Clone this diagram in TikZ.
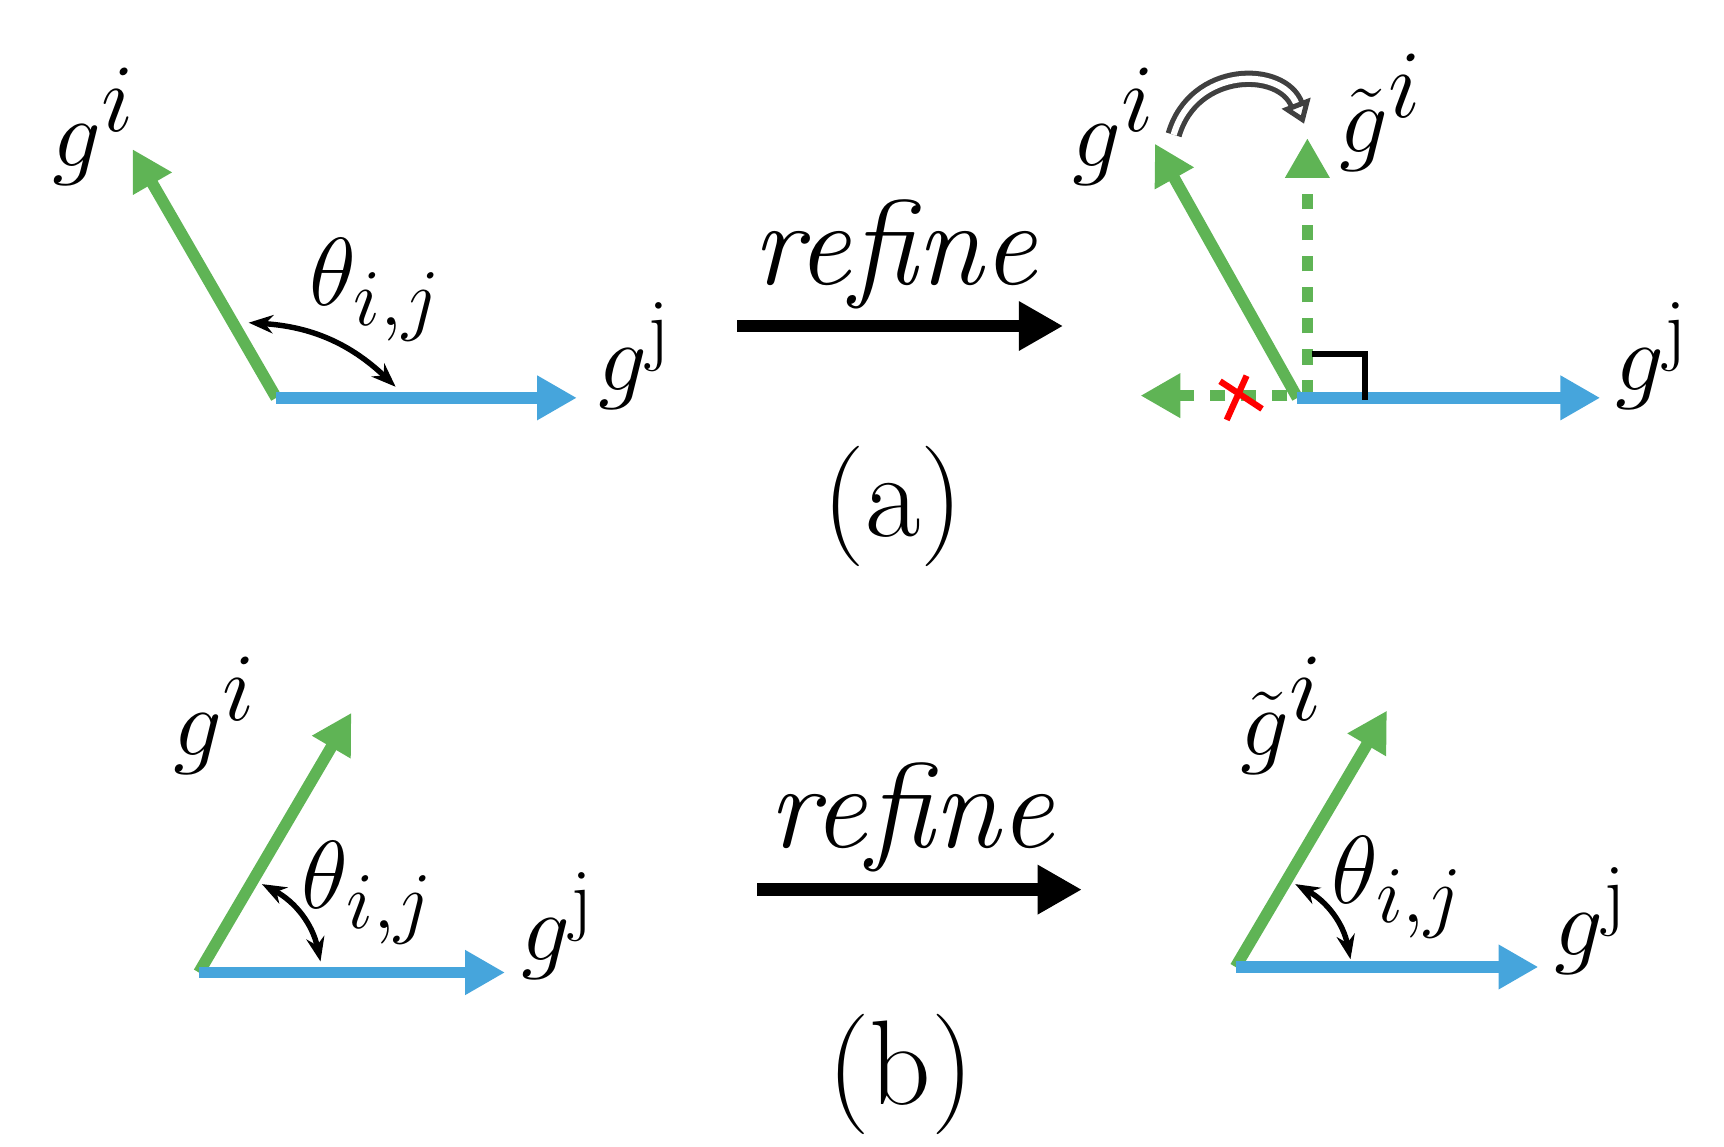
\documentclass[tikz,border=0pt]{standalone}
\usetikzlibrary{arrows.meta}
\definecolor{vgreen}{RGB}{95,180,85}
\definecolor{vblue}{RGB}{70,165,220}
\begin{document}
\begin{tikzpicture}[x=0.01cm,y=-0.01cm,
    vec/.style={line width=3pt,-{Triangle[length=0.36cm,width=0.38cm]}},
    gvec/.style={vec,vgreen},
    bvec/.style={vec,vblue},
    dvec/.style={gvec,dash pattern=on 4pt off 4pt},
    lab/.style={font=\fontsize{31}{34}\selectfont,inner sep=0pt},
    ang/.style={line width=1.4pt,{Stealth[length=0.22cm]}-{Stealth[length=0.22cm]}},
    refarrow/.style={line width=3.2pt,-{Triangle[length=0.4cm,width=0.42cm]}}]
  \useasboundingbox (0,0) rectangle (1560,1037);
  % (a) left
  \coordinate (o1) at (250,360);
  \coordinate (gi1) at (120,135);
  \coordinate (gj1) at (522,360);
  \draw[gvec] (o1) -- (gi1);
  \draw[bvec] (o1) -- (gj1);
  \node[lab] (lgi1) at (85,115) {$g^{\textstyle i}$};
  \node[lab] (lgj1) at (575,322) {$g^{\mathrm{j}}$};
  \node[lab] (th1) at (340,262) {$\theta_{i,j}$};
  \coordinate (a1s) at (225,292);
  \coordinate (a1e) at (358,350);
  \draw[ang] (a1s) to[bend left=20] (a1e);
  % refine (a)
  \coordinate (r1s) at (667,295);
  \coordinate (r1e) at (962,295);
  \draw[refarrow] (r1s) -- (r1e);
  \node[lab] (rf1) at (810,230) {\textit{refine}};
  \node[lab] (capa) at (808,458) {(a)};
  % (a) right
  \coordinate (o2) at (1174,360);
  \coordinate (gi2) at (1045,130);
  \coordinate (gt2) at (1183,125);
  \coordinate (gl2) at (1032,358);
  \coordinate (gj2) at (1448,360);
  \draw[dvec] (1183,358) -- (gt2);
  \draw[dvec] (1165,358) -- (gl2);
  \draw[gvec] (o2) -- (gi2);
  \draw[bvec] (o2) -- (gj2);
  \draw[line width=1.5pt] (1187,320) -- (1235,320) -- (1235,362);
  \draw[red,line width=1.6pt] (1104,345) -- (1142,370) (1128,340) -- (1110,380);
  \draw[double=white,draw=black!75,line width=1.3pt,double distance=1.6pt,-{Triangle[length=0.2cm,width=0.27cm,open]}]
    (1062,122) .. controls (1080,60) and (1160,60) .. (1180,112);
  \node[lab] (lgi2) at (1008,115) {$g^{\textstyle i}$};
  \node[lab] (lgt2) at (1250,102) {$\tilde g^{\textstyle i}$};
  \node[lab] (lgj2) at (1495,322) {$g^{\mathrm{j}}$};
  % (b) left
  \coordinate (o3) at (180,880);
  \coordinate (gi3) at (318,645);
  \coordinate (gj3) at (457,880);
  \draw[gvec] (o3) -- (gi3);
  \draw[bvec] (o3) -- (gj3);
  \node[lab] (lgi3) at (195,648) {$g^{\textstyle i}$};
  \node[lab] (lgj3) at (505,838) {$g^{\mathrm{j}}$};
  \node[lab] (th3) at (333,808) {$\theta_{i,j}$};
  \coordinate (a3s) at (237,800);
  \coordinate (a3e) at (290,870);
  \draw[ang] (a3s) to[bend left=25] (a3e);
  % refine (b)
  \coordinate (r2s) at (685,805);
  \coordinate (r2e) at (979,805);
  \draw[refarrow] (r2s) -- (r2e);
  \node[lab] (rf2) at (825,740) {\textit{refine}};
  \node[lab] (capb) at (815,972) {(b)};
  % (b) right
  \coordinate (o4) at (1118,875);
  \coordinate (gi4) at (1255,643);
  \coordinate (gj4) at (1392,875);
  \draw[gvec] (o4) -- (gi4);
  \draw[bvec] (o4) -- (gj4);
  \node[lab] (lgt4) at (1160,648) {$\tilde g^{\textstyle i}$};
  \node[lab] (lgj4) at (1440,833) {$g^{\mathrm{j}}$};
  \node[lab] (th4) at (1265,803) {$\theta_{i,j}$};
  \coordinate (a4s) at (1172,800);
  \coordinate (a4e) at (1222,868);
  \draw[ang] (a4s) to[bend left=25] (a4e);
\end{tikzpicture}
\end{document}
